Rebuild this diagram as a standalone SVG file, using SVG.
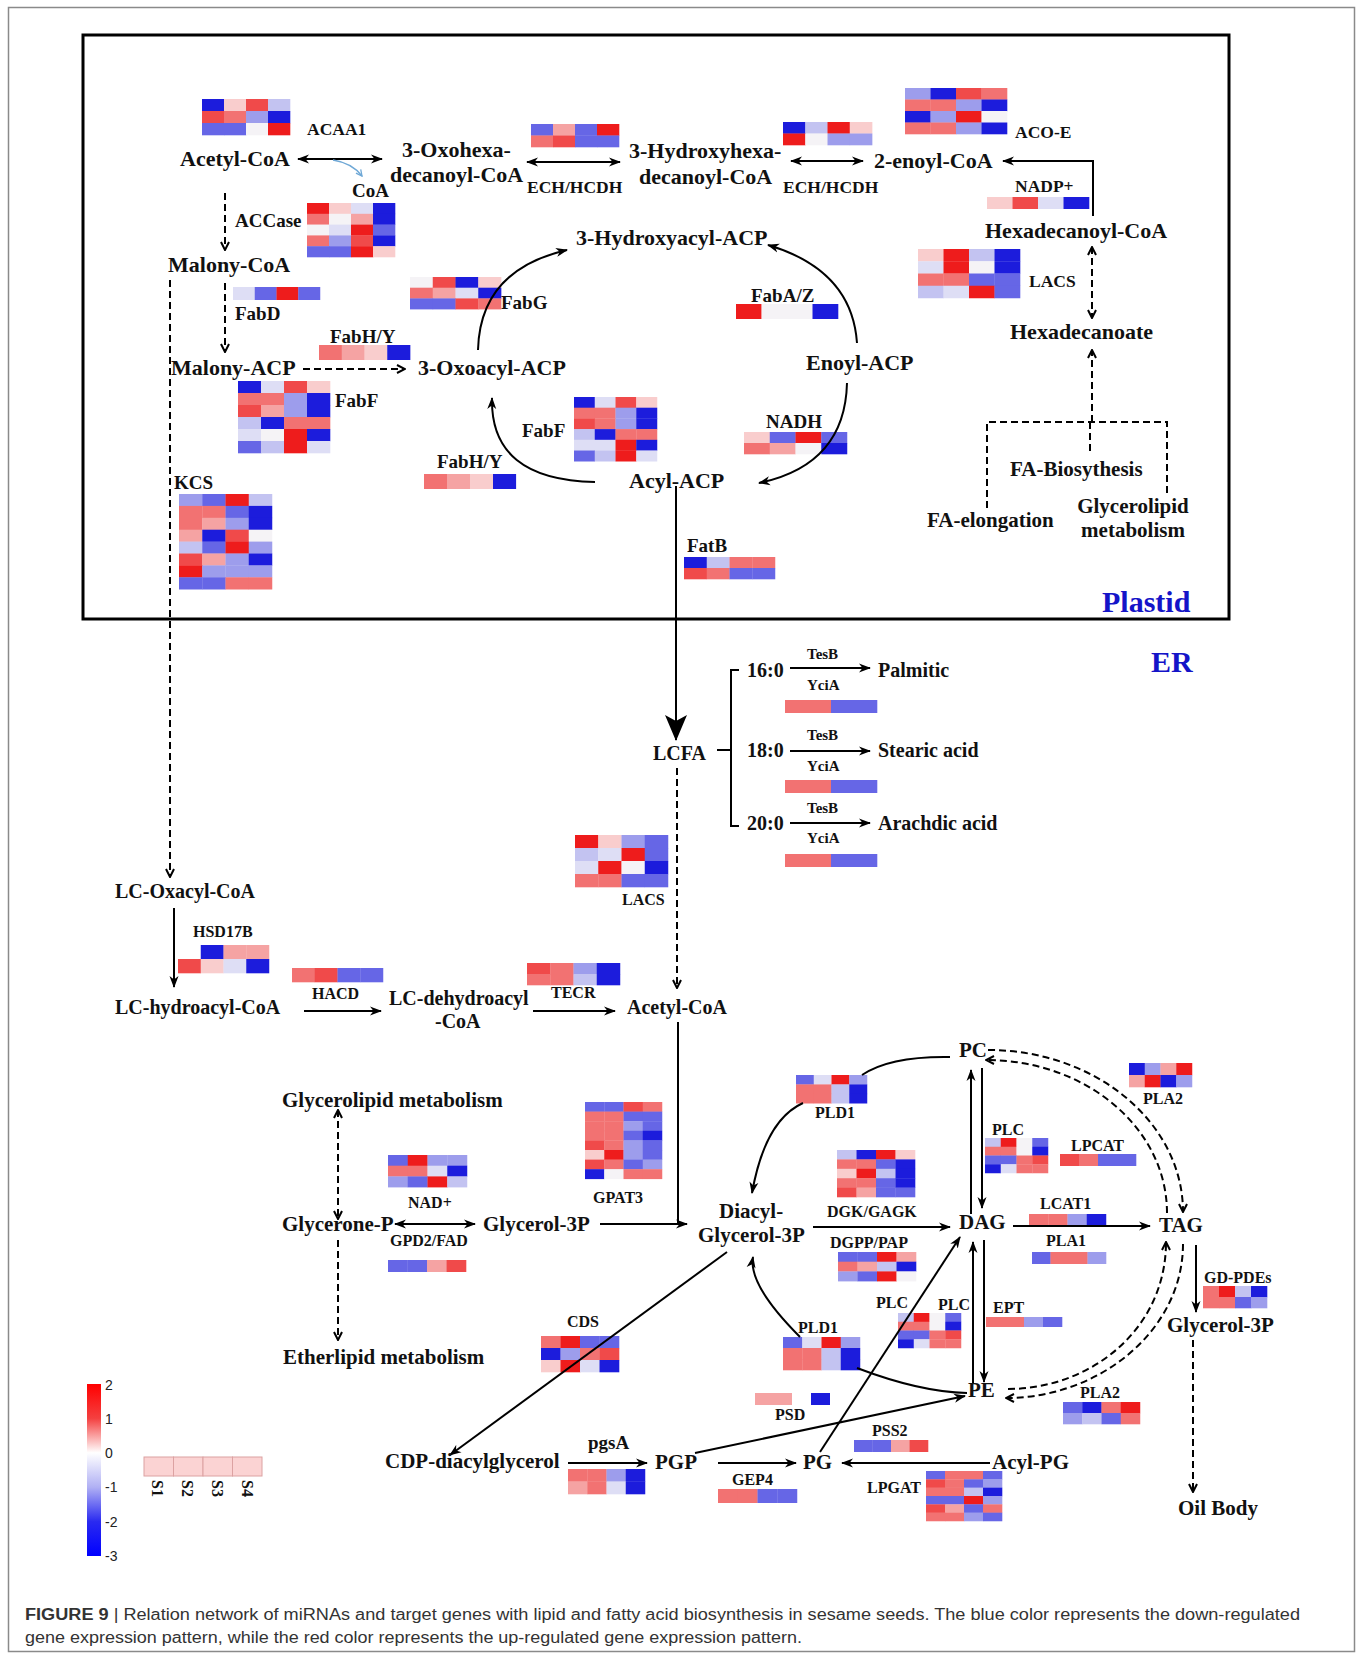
<svg xmlns="http://www.w3.org/2000/svg" width="1362" height="1659" viewBox="0 0 1362 1659">
<style>
text{font-family:"Liberation Serif","Times New Roman",serif;font-weight:bold;fill:#111}
.t22{font-size:22px}.t21{font-size:21px}.t20{font-size:20px}.t19{font-size:19px}.t17{font-size:17.5px}.t16{font-size:16px}.t15{font-size:15px}
.blue{fill:#1414c8;font-size:30px}
.ln{fill:none;stroke:#000;stroke-width:2}
.dl{fill:none;stroke:#000;stroke-width:2;stroke-dasharray:7 4}
.h1{fill:#ee1c1c}.h2{fill:#f04a4a}.h3{fill:#f27272}.h4{fill:#f5a3a3}.h5{fill:#f9cdcd}.h6{fill:#f5f3f6}.h7{fill:#dedef5}.h8{fill:#c3c3f1}.h9{fill:#9d9dec}.h10{fill:#6666e6}.h11{fill:#1c1cdc}
#hm1 rect{width:22.3px;height:12.3px}#hm2 rect{width:22.3px;height:11.1px}#hm3 rect{width:22px;height:13px}#hm4 rect,#hm15 rect{width:23.1px;height:15px}
#hm5 rect{width:23.1px;height:11px}#hm6 rect{width:23.3px;height:12.3px}#hm7 rect{width:22.3px;height:11.8px}#hm8 rect{width:22.6px;height:11.8px}
#hm9 rect{width:25.8px;height:11.8px}#hm10 rect{width:25.8px;height:12px}#hm11 rect{width:25.8px;height:12.5px}#hm12 rect{width:25.8px;height:15px}
#hm13 rect{width:21px;height:11px}#hm14 rect{width:26px;height:11.3px}#hm16 rect{width:23.5px;height:12.2px}#hm17 rect{width:23px;height:11.3px}
#hm18 rect,#hm19 rect,#hm20 rect{width:23.3px;height:13px}#hm21 rect{width:23.5px;height:13.3px}#hm22 rect,#hm23 rect{width:23px;height:14.3px}
#hm24 rect{width:23.5px;height:11.3px}#hm25 rect{width:20px;height:11px}#hm26 rect{width:19.8px;height:12px}#hm27 rect{width:19.5px;height:9.9px}
#hm28 rect{width:18px;height:9.7px}#hm29 rect{width:19.8px;height:9.7px}#hm30 rect{width:19.8px;height:10px}#hm31 rect,#hm38 rect{width:16px;height:9px}
#hm32 rect{width:19.3px;height:12px}#hm33 rect{width:16px;height:12.3px}#hm34 rect{width:19.5px;height:12px}#hm35 rect{width:18.8px;height:12px}
#hm36 rect{width:16.3px;height:11.3px}#hm37 rect{width:19.3px;height:10px}#hm39 rect{width:19.5px;height:11.3px}#hm40 rect{width:19.8px;height:12.3px}
#hm42 rect{width:18.8px;height:12px}#hm43 rect{width:19.5px;height:11.3px}#hm44 rect{width:19.5px;height:12.8px}#hm45 rect{width:20px;height:14px}#hm46 rect{width:19.3px;height:8.6px}
</style>
<defs>
<marker id="a" viewBox="0 0 12 10" markerWidth="12" markerHeight="10" refX="11" refY="5" orient="auto-start-reverse" markerUnits="userSpaceOnUse"><path d="M0,0.5 L12,5 L0,9.5 L3.5,5 z" fill="#000"/></marker>
<marker id="v" viewBox="0 0 10 10" markerWidth="10" markerHeight="10" refX="9" refY="5" orient="auto-start-reverse" markerUnits="userSpaceOnUse"><path d="M1,1 L9,5 L1,9" fill="none" stroke="#000" stroke-width="2"/></marker>
<marker id="big" viewBox="0 0 26 22" markerWidth="26" markerHeight="22" refX="25" refY="11" orient="auto" markerUnits="userSpaceOnUse"><path d="M0,0 L26,11 L0,22 L6,11 z" fill="#000"/></marker>
<marker id="ab" viewBox="0 0 8 8" markerWidth="8" markerHeight="8" refX="7" refY="4" orient="auto" markerUnits="userSpaceOnUse"><path d="M1,1 L7,4 L1,7" fill="none" stroke="#6fa8d6" stroke-width="1.3"/></marker>
<linearGradient id="cbar" x1="0" y1="0" x2="0" y2="1">
<stop offset="0" stop-color="#ff0000"/><stop offset="0.2" stop-color="#f44040"/><stop offset="0.4" stop-color="#ffffff"/><stop offset="0.6" stop-color="#b0b0f4"/><stop offset="0.8" stop-color="#2a2af0"/><stop offset="1" stop-color="#0000ff"/>
</linearGradient>
</defs>
<rect x="0" y="0" width="1362" height="1659" fill="#fff"/>
<rect x="8.5" y="7.5" width="1346" height="1644" fill="none" stroke="#8a8a8a" stroke-width="1.5"/>
<rect id="plastid" x="83" y="35" width="1146" height="584" fill="none" stroke="#000" stroke-width="3"/>

<g id="heatmaps">
<g id="hm1" transform="translate(202,99)"><rect x="0" y="0" class="h11"/><rect x="22" y="0" class="h5"/><rect x="44" y="0" class="h2"/><rect x="66" y="0" class="h8"/><rect x="0" y="12" class="h2"/><rect x="22" y="12" class="h3"/><rect x="44" y="12" class="h9"/><rect x="66" y="12" class="h11"/><rect x="0" y="24" class="h10"/><rect x="22" y="24" class="h10"/><rect x="44" y="24" class="h6"/><rect x="66" y="24" class="h1"/></g>
<g id="hm2" transform="translate(307,203)"><rect x="0" y="0" class="h1"/><rect x="22" y="0" class="h5"/><rect x="44" y="0" class="h7"/><rect x="66" y="0" class="h11"/><rect x="0" y="10.8" class="h3"/><rect x="22" y="10.8" class="h6"/><rect x="44" y="10.8" class="h4"/><rect x="66" y="10.8" class="h11"/><rect x="0" y="21.6" class="h6"/><rect x="22" y="21.6" class="h7"/><rect x="44" y="21.6" class="h1"/><rect x="66" y="21.6" class="h10"/><rect x="0" y="32.4" class="h3"/><rect x="22" y="32.4" class="h9"/><rect x="44" y="32.4" class="h2"/><rect x="66" y="32.4" class="h11"/><rect x="0" y="43.2" class="h10"/><rect x="22" y="43.2" class="h10"/><rect x="44" y="43.2" class="h1"/><rect x="66" y="43.2" class="h5"/></g>
<g id="hm3" transform="translate(233,287)"><rect x="0" y="0" class="h7"/><rect x="21.75" y="0" class="h10"/><rect x="43.5" y="0" class="h1"/><rect x="65.25" y="0" class="h10"/></g>
<g id="hm4" transform="translate(319,345)"><rect x="0" y="0" class="h3"/><rect x="22.75" y="0" class="h4"/><rect x="45.5" y="0" class="h5"/><rect x="68.25" y="0" class="h11"/></g>
<g id="hm5" transform="translate(410,277)"><rect x="0" y="0" class="h6"/><rect x="22.75" y="0" class="h2"/><rect x="45.5" y="0" class="h11"/><rect x="68.25" y="0" class="h5"/><rect x="0" y="10.7" class="h3"/><rect x="22.75" y="10.7" class="h4"/><rect x="45.5" y="10.7" class="h7"/><rect x="68.25" y="10.7" class="h11"/><rect x="0" y="21.4" class="h10"/><rect x="22.75" y="21.4" class="h10"/><rect x="45.5" y="21.4" class="h2"/><rect x="68.25" y="21.4" class="h3"/></g>
<g id="hm6" transform="translate(238,381)"><rect x="0" y="0" class="h11"/><rect x="23" y="0" class="h7"/><rect x="46" y="0" class="h2"/><rect x="69" y="0" class="h5"/><rect x="0" y="12" class="h3"/><rect x="23" y="12" class="h3"/><rect x="46" y="12" class="h9"/><rect x="69" y="12" class="h11"/><rect x="0" y="24" class="h2"/><rect x="23" y="24" class="h4"/><rect x="46" y="24" class="h9"/><rect x="69" y="24" class="h11"/><rect x="0" y="36" class="h8"/><rect x="23" y="36" class="h11"/><rect x="46" y="36" class="h3"/><rect x="69" y="36" class="h3"/><rect x="0" y="48" class="h7"/><rect x="23" y="48" class="h6"/><rect x="46" y="48" class="h1"/><rect x="69" y="48" class="h11"/><rect x="0" y="60" class="h10"/><rect x="23" y="60" class="h8"/><rect x="46" y="60" class="h1"/><rect x="69" y="60" class="h7"/></g>
<g id="hm7" transform="translate(531,124)"><rect x="0" y="0" class="h10"/><rect x="22" y="0" class="h4"/><rect x="44" y="0" class="h10"/><rect x="66" y="0" class="h1"/><rect x="0" y="11.5" class="h3"/><rect x="22" y="11.5" class="h2"/><rect x="44" y="11.5" class="h10"/><rect x="66" y="11.5" class="h10"/></g>
<g id="hm8" transform="translate(783,122)"><rect x="0" y="0" class="h11"/><rect x="22.25" y="0" class="h8"/><rect x="44.5" y="0" class="h1"/><rect x="66.75" y="0" class="h5"/><rect x="0" y="11.5" class="h1"/><rect x="22.25" y="11.5" class="h6"/><rect x="44.5" y="11.5" class="h9"/><rect x="66.75" y="11.5" class="h9"/></g>
<g id="hm9" transform="translate(905,88)"><rect x="0" y="0" class="h9"/><rect x="25.5" y="0" class="h11"/><rect x="51" y="0" class="h2"/><rect x="76.5" y="0" class="h3"/><rect x="0" y="11.5" class="h3"/><rect x="25.5" y="11.5" class="h3"/><rect x="51" y="11.5" class="h9"/><rect x="76.5" y="11.5" class="h11"/><rect x="0" y="23" class="h11"/><rect x="25.5" y="23" class="h9"/><rect x="51" y="23" class="h1"/><rect x="76.5" y="23" class="h6"/><rect x="0" y="34.5" class="h3"/><rect x="25.5" y="34.5" class="h3"/><rect x="51" y="34.5" class="h9"/><rect x="76.5" y="34.5" class="h11"/></g>
<g id="hm10" transform="translate(987,197)"><rect x="0" y="0" class="h5"/><rect x="25.5" y="0" class="h2"/><rect x="51" y="0" class="h7"/><rect x="76.5" y="0" class="h11"/></g>
<g id="hm11" transform="translate(918,249)"><rect x="0" y="0" class="h5"/><rect x="25.5" y="0" class="h1"/><rect x="51" y="0" class="h8"/><rect x="76.5" y="0" class="h11"/><rect x="0" y="12.25" class="h7"/><rect x="25.5" y="12.25" class="h1"/><rect x="51" y="12.25" class="h6"/><rect x="76.5" y="12.25" class="h11"/><rect x="0" y="24.5" class="h3"/><rect x="25.5" y="24.5" class="h3"/><rect x="51" y="24.5" class="h10"/><rect x="76.5" y="24.5" class="h10"/><rect x="0" y="36.75" class="h8"/><rect x="25.5" y="36.75" class="h7"/><rect x="51" y="36.75" class="h1"/><rect x="76.5" y="36.75" class="h10"/></g>
<g id="hm12" transform="translate(736,304)"><rect x="0" y="0" class="h1"/><rect x="25.5" y="0" class="h6"/><rect x="51" y="0" class="h6"/><rect x="76.5" y="0" class="h11"/></g>
<g id="hm13" transform="translate(574,397)"><rect x="0" y="0" class="h11"/><rect x="20.75" y="0" class="h7"/><rect x="41.5" y="0" class="h2"/><rect x="62.25" y="0" class="h5"/><rect x="0" y="10.7" class="h3"/><rect x="20.75" y="10.7" class="h3"/><rect x="41.5" y="10.7" class="h9"/><rect x="62.25" y="10.7" class="h11"/><rect x="0" y="21.4" class="h2"/><rect x="20.75" y="21.4" class="h3"/><rect x="41.5" y="21.4" class="h9"/><rect x="62.25" y="21.4" class="h11"/><rect x="0" y="32.1" class="h8"/><rect x="20.75" y="32.1" class="h11"/><rect x="41.5" y="32.1" class="h3"/><rect x="62.25" y="32.1" class="h3"/><rect x="0" y="42.8" class="h7"/><rect x="20.75" y="42.8" class="h7"/><rect x="41.5" y="42.8" class="h1"/><rect x="62.25" y="42.8" class="h11"/><rect x="0" y="53.5" class="h10"/><rect x="20.75" y="53.5" class="h8"/><rect x="41.5" y="53.5" class="h1"/><rect x="62.25" y="53.5" class="h7"/></g>
<g id="hm14" transform="translate(744,432)"><rect x="0" y="0" class="h5"/><rect x="25.75" y="0" class="h10"/><rect x="51.5" y="0" class="h1"/><rect x="77.25" y="0" class="h10"/><rect x="0" y="11" class="h3"/><rect x="25.75" y="11" class="h4"/><rect x="51.5" y="11" class="h6"/><rect x="77.25" y="11" class="h11"/></g>
<g id="hm15" transform="translate(424,474)"><rect x="0" y="0" class="h3"/><rect x="23" y="0" class="h4"/><rect x="46" y="0" class="h5"/><rect x="69" y="0" class="h11"/></g>
<g id="hm16" transform="translate(179,494)"><rect x="0" y="0" class="h9"/><rect x="23.25" y="0" class="h10"/><rect x="46.5" y="0" class="h1"/><rect x="69.75" y="0" class="h8"/><rect x="0" y="11.9" class="h3"/><rect x="23.25" y="11.9" class="h3"/><rect x="46.5" y="11.9" class="h10"/><rect x="69.75" y="11.9" class="h11"/><rect x="0" y="23.8" class="h3"/><rect x="23.25" y="23.8" class="h4"/><rect x="46.5" y="23.8" class="h9"/><rect x="69.75" y="23.8" class="h11"/><rect x="0" y="35.7" class="h4"/><rect x="23.25" y="35.7" class="h11"/><rect x="46.5" y="35.7" class="h2"/><rect x="69.75" y="35.7" class="h6"/><rect x="0" y="47.6" class="h8"/><rect x="23.25" y="47.6" class="h10"/><rect x="46.5" y="47.6" class="h1"/><rect x="69.75" y="47.6" class="h9"/><rect x="0" y="59.5" class="h2"/><rect x="23.25" y="59.5" class="h4"/><rect x="46.5" y="59.5" class="h9"/><rect x="69.75" y="59.5" class="h11"/><rect x="0" y="71.4" class="h1"/><rect x="23.25" y="71.4" class="h9"/><rect x="46.5" y="71.4" class="h9"/><rect x="69.75" y="71.4" class="h9"/><rect x="0" y="83.3" class="h10"/><rect x="23.25" y="83.3" class="h10"/><rect x="46.5" y="83.3" class="h3"/><rect x="69.75" y="83.3" class="h3"/></g>
<g id="hm17" transform="translate(684,557)"><rect x="0" y="0" class="h11"/><rect x="22.75" y="0" class="h8"/><rect x="45.5" y="0" class="h3"/><rect x="68.25" y="0" class="h3"/><rect x="0" y="11" class="h2"/><rect x="22.75" y="11" class="h3"/><rect x="45.5" y="11" class="h10"/><rect x="68.25" y="11" class="h10"/></g>
<g id="hm18" transform="translate(785,700)"><rect x="0" y="0" class="h3"/><rect x="23" y="0" class="h3"/><rect x="46" y="0" class="h10"/><rect x="69" y="0" class="h10"/></g>
<g id="hm19" transform="translate(785,780)"><rect x="0" y="0" class="h3"/><rect x="23" y="0" class="h3"/><rect x="46" y="0" class="h10"/><rect x="69" y="0" class="h10"/></g>
<g id="hm20" transform="translate(785,854)"><rect x="0" y="0" class="h3"/><rect x="23" y="0" class="h3"/><rect x="46" y="0" class="h10"/><rect x="69" y="0" class="h10"/></g>
<g id="hm21" transform="translate(575,835)"><rect x="0" y="0" class="h1"/><rect x="23.25" y="0" class="h5"/><rect x="46.5" y="0" class="h9"/><rect x="69.75" y="0" class="h10"/><rect x="0" y="13" class="h8"/><rect x="23.25" y="13" class="h7"/><rect x="46.5" y="13" class="h1"/><rect x="69.75" y="13" class="h10"/><rect x="0" y="26" class="h7"/><rect x="23.25" y="26" class="h1"/><rect x="46.5" y="26" class="h6"/><rect x="69.75" y="26" class="h11"/><rect x="0" y="39" class="h3"/><rect x="23.25" y="39" class="h3"/><rect x="46.5" y="39" class="h10"/><rect x="69.75" y="39" class="h10"/></g>
<g id="hm22" transform="translate(178,945)"><rect x="22.75" y="0" class="h11"/><rect x="45.5" y="0" class="h4"/><rect x="68.25" y="0" class="h4"/><rect x="0" y="14" class="h2"/><rect x="22.75" y="14" class="h5"/><rect x="45.5" y="14" class="h7"/><rect x="68.25" y="14" class="h11"/></g>
<g id="hm23" transform="translate(292,968)"><rect x="0" y="0" class="h3"/><rect x="22.75" y="0" class="h2"/><rect x="45.5" y="0" class="h10"/><rect x="68.25" y="0" class="h10"/></g>
<g id="hm24" transform="translate(527,963)"><rect x="0" y="0" class="h2"/><rect x="23.25" y="0" class="h3"/><rect x="46.5" y="0" class="h9"/><rect x="69.75" y="0" class="h11"/><rect x="0" y="11" class="h3"/><rect x="23.25" y="11" class="h3"/><rect x="46.5" y="11" class="h8"/><rect x="69.75" y="11" class="h11"/></g>
<g id="hm25" transform="translate(388,1155)"><rect x="0" y="0" class="h10"/><rect x="19.75" y="0" class="h1"/><rect x="39.5" y="0" class="h9"/><rect x="59.25" y="0" class="h9"/><rect x="0" y="10.7" class="h3"/><rect x="19.75" y="10.7" class="h3"/><rect x="39.5" y="10.7" class="h7"/><rect x="59.25" y="10.7" class="h11"/><rect x="0" y="21.4" class="h9"/><rect x="19.75" y="21.4" class="h10"/><rect x="39.5" y="21.4" class="h1"/><rect x="59.25" y="21.4" class="h8"/></g>
<g id="hm26" transform="translate(388,1260)"><rect x="0" y="0" class="h10"/><rect x="19.5" y="0" class="h10"/><rect x="39" y="0" class="h4"/><rect x="58.5" y="0" class="h2"/></g>
<g id="hm27" transform="translate(585,1102)"><rect x="0" y="0" class="h10"/><rect x="19.25" y="0" class="h10"/><rect x="38.5" y="0" class="h2"/><rect x="57.75" y="0" class="h3"/><rect x="0" y="9.6" class="h3"/><rect x="19.25" y="9.6" class="h3"/><rect x="38.5" y="9.6" class="h10"/><rect x="57.75" y="9.6" class="h10"/><rect x="0" y="19.2" class="h3"/><rect x="19.25" y="19.2" class="h3"/><rect x="38.5" y="19.2" class="h9"/><rect x="57.75" y="19.2" class="h10"/><rect x="0" y="28.8" class="h3"/><rect x="19.25" y="28.8" class="h3"/><rect x="38.5" y="28.8" class="h10"/><rect x="57.75" y="28.8" class="h11"/><rect x="0" y="38.4" class="h2"/><rect x="19.25" y="38.4" class="h3"/><rect x="38.5" y="38.4" class="h9"/><rect x="57.75" y="38.4" class="h10"/><rect x="0" y="48" class="h5"/><rect x="19.25" y="48" class="h1"/><rect x="38.5" y="48" class="h9"/><rect x="57.75" y="48" class="h10"/><rect x="0" y="57.6" class="h2"/><rect x="19.25" y="57.6" class="h3"/><rect x="38.5" y="57.6" class="h10"/><rect x="57.75" y="57.6" class="h9"/><rect x="0" y="67.2" class="h11"/><rect x="19.25" y="67.2" class="h6"/><rect x="38.5" y="67.2" class="h3"/><rect x="57.75" y="67.2" class="h3"/></g>
<g id="hm28" transform="translate(796,1075)"><rect x="0" y="0" class="h10"/><rect x="17.75" y="0" class="h7"/><rect x="35.5" y="0" class="h1"/><rect x="53.25" y="0" class="h9"/><rect x="0" y="9.4" class="h3"/><rect x="17.75" y="9.4" class="h3"/><rect x="35.5" y="9.4" class="h8"/><rect x="53.25" y="9.4" class="h11"/><rect x="0" y="18.8" class="h3"/><rect x="17.75" y="18.8" class="h3"/><rect x="35.5" y="18.8" class="h8"/><rect x="53.25" y="18.8" class="h11"/></g>
<g id="hm29" transform="translate(837,1150)"><rect x="0" y="0" class="h8"/><rect x="19.5" y="0" class="h11"/><rect x="39" y="0" class="h1"/><rect x="58.5" y="0" class="h5"/><rect x="0" y="9.4" class="h3"/><rect x="19.5" y="9.4" class="h3"/><rect x="39" y="9.4" class="h10"/><rect x="58.5" y="9.4" class="h11"/><rect x="0" y="18.8" class="h5"/><rect x="19.5" y="18.8" class="h1"/><rect x="39" y="18.8" class="h8"/><rect x="58.5" y="18.8" class="h11"/><rect x="0" y="28.2" class="h3"/><rect x="19.5" y="28.2" class="h3"/><rect x="39" y="28.2" class="h10"/><rect x="58.5" y="28.2" class="h11"/><rect x="0" y="37.6" class="h2"/><rect x="19.5" y="37.6" class="h4"/><rect x="39" y="37.6" class="h10"/><rect x="58.5" y="37.6" class="h10"/></g>
<g id="hm30" transform="translate(838,1252)"><rect x="0" y="0" class="h10"/><rect x="19.5" y="0" class="h10"/><rect x="39" y="0" class="h1"/><rect x="58.5" y="0" class="h4"/><rect x="0" y="9.7" class="h3"/><rect x="19.5" y="9.7" class="h4"/><rect x="39" y="9.7" class="h8"/><rect x="58.5" y="9.7" class="h11"/><rect x="0" y="19.4" class="h9"/><rect x="19.5" y="19.4" class="h10"/><rect x="39" y="19.4" class="h1"/><rect x="58.5" y="19.4" class="h6"/></g>
<g id="hm31" transform="translate(985,1138)"><rect x="0" y="0" class="h8"/><rect x="15.75" y="0" class="h1"/><rect x="31.5" y="0" class="h6"/><rect x="47.25" y="0" class="h10"/><rect x="0" y="8.75" class="h3"/><rect x="15.75" y="8.75" class="h3"/><rect x="31.5" y="8.75" class="h6"/><rect x="47.25" y="8.75" class="h11"/><rect x="0" y="17.5" class="h10"/><rect x="15.75" y="17.5" class="h10"/><rect x="31.5" y="17.5" class="h3"/><rect x="47.25" y="17.5" class="h2"/><rect x="0" y="26.25" class="h11"/><rect x="15.75" y="26.25" class="h7"/><rect x="31.5" y="26.25" class="h3"/><rect x="47.25" y="26.25" class="h3"/></g>
<g id="hm32" transform="translate(1060,1154)"><rect x="0" y="0" class="h2"/><rect x="19" y="0" class="h3"/><rect x="38" y="0" class="h10"/><rect x="57" y="0" class="h10"/></g>
<g id="hm33" transform="translate(1129,1063)"><rect x="0" y="0" class="h11"/><rect x="15.75" y="0" class="h9"/><rect x="31.5" y="0" class="h4"/><rect x="47.25" y="0" class="h1"/><rect x="0" y="12" class="h4"/><rect x="15.75" y="12" class="h1"/><rect x="31.5" y="12" class="h11"/><rect x="47.25" y="12" class="h9"/></g>
<g id="hm34" transform="translate(1029,1214)"><rect x="0" y="0" class="h3"/><rect x="19.25" y="0" class="h3"/><rect x="38.5" y="0" class="h9"/><rect x="57.75" y="0" class="h11"/></g>
<g id="hm35" transform="translate(1032,1252)"><rect x="0" y="0" class="h10"/><rect x="18.5" y="0" class="h3"/><rect x="37" y="0" class="h3"/><rect x="55.5" y="0" class="h9"/></g>
<g id="hm36" transform="translate(1203,1286)"><rect x="0" y="0" class="h3"/><rect x="16" y="0" class="h1"/><rect x="32" y="0" class="h8"/><rect x="48" y="0" class="h11"/><rect x="0" y="11" class="h3"/><rect x="16" y="11" class="h3"/><rect x="32" y="11" class="h10"/><rect x="48" y="11" class="h9"/></g>
<g id="hm37" transform="translate(986,1317)"><rect x="0" y="0" class="h3"/><rect x="19" y="0" class="h3"/><rect x="38" y="0" class="h9"/><rect x="57" y="0" class="h10"/></g>
<g id="hm38" transform="translate(898,1313)"><rect x="0" y="0" class="h8"/><rect x="15.75" y="0" class="h1"/><rect x="31.5" y="0" class="h6"/><rect x="47.25" y="0" class="h10"/><rect x="0" y="8.75" class="h3"/><rect x="15.75" y="8.75" class="h3"/><rect x="31.5" y="8.75" class="h6"/><rect x="47.25" y="8.75" class="h11"/><rect x="0" y="17.5" class="h10"/><rect x="15.75" y="17.5" class="h10"/><rect x="31.5" y="17.5" class="h3"/><rect x="47.25" y="17.5" class="h2"/><rect x="0" y="26.25" class="h11"/><rect x="15.75" y="26.25" class="h7"/><rect x="31.5" y="26.25" class="h3"/><rect x="47.25" y="26.25" class="h3"/></g>
<g id="hm39" transform="translate(783,1337)"><rect x="0" y="0" class="h10"/><rect x="19.25" y="0" class="h7"/><rect x="38.5" y="0" class="h1"/><rect x="57.75" y="0" class="h9"/><rect x="0" y="11" class="h3"/><rect x="19.25" y="11" class="h3"/><rect x="38.5" y="11" class="h8"/><rect x="57.75" y="11" class="h11"/><rect x="0" y="22" class="h3"/><rect x="19.25" y="22" class="h3"/><rect x="38.5" y="22" class="h8"/><rect x="57.75" y="22" class="h11"/></g>
<g id="hm40" transform="translate(541,1336)"><rect x="0" y="0" class="h3"/><rect x="19.5" y="0" class="h1"/><rect x="39" y="0" class="h10"/><rect x="58.5" y="0" class="h10"/><rect x="0" y="12" class="h11"/><rect x="19.5" y="12" class="h9"/><rect x="39" y="12" class="h3"/><rect x="58.5" y="12" class="h2"/><rect x="0" y="24" class="h5"/><rect x="19.5" y="24" class="h1"/><rect x="39" y="24" class="h7"/><rect x="58.5" y="24" class="h11"/></g>
<g id="hm41"><rect x="755" y="1393" width="37" height="12" class="h4"/><rect x="811" y="1393" width="19" height="12" class="h11"/></g>
<g id="hm42" transform="translate(854,1440)"><rect x="0" y="0" class="h10"/><rect x="18.5" y="0" class="h10"/><rect x="37" y="0" class="h4"/><rect x="55.5" y="0" class="h2"/></g>
<g id="hm43" transform="translate(1063,1402)"><rect x="0" y="0" class="h10"/><rect x="19.25" y="0" class="h11"/><rect x="38.5" y="0" class="h3"/><rect x="57.75" y="0" class="h1"/><rect x="0" y="11" class="h9"/><rect x="19.25" y="11" class="h8"/><rect x="38.5" y="11" class="h10"/><rect x="57.75" y="11" class="h3"/></g>
<g id="hm44" transform="translate(568,1469)"><rect x="0" y="0" class="h3"/><rect x="19.25" y="0" class="h3"/><rect x="38.5" y="0" class="h9"/><rect x="57.75" y="0" class="h11"/><rect x="0" y="12.5" class="h4"/><rect x="19.25" y="12.5" class="h3"/><rect x="38.5" y="12.5" class="h7"/><rect x="57.75" y="12.5" class="h11"/></g>
<g id="hm45" transform="translate(718,1489)"><rect x="0" y="0" class="h3"/><rect x="19.75" y="0" class="h3"/><rect x="39.5" y="0" class="h10"/><rect x="59.25" y="0" class="h10"/></g>
<g id="hm46" transform="translate(926,1471)"><rect x="0" y="0" class="h10"/><rect x="19" y="0" class="h3"/><rect x="38" y="0" class="h3"/><rect x="57" y="0" class="h10"/><rect x="0" y="8.33" class="h2"/><rect x="19" y="8.33" class="h3"/><rect x="38" y="8.33" class="h10"/><rect x="57" y="8.33" class="h9"/><rect x="0" y="16.67" class="h3"/><rect x="19" y="16.67" class="h3"/><rect x="38" y="16.67" class="h8"/><rect x="57" y="16.67" class="h11"/><rect x="0" y="25" class="h10"/><rect x="19" y="25" class="h10"/><rect x="38" y="25" class="h1"/><rect x="57" y="25" class="h9"/><rect x="0" y="33.33" class="h2"/><rect x="19" y="33.33" class="h4"/><rect x="38" y="33.33" class="h10"/><rect x="57" y="33.33" class="h3"/><rect x="0" y="41.67" class="h3"/><rect x="19" y="41.67" class="h3"/><rect x="38" y="41.67" class="h9"/><rect x="57" y="41.67" class="h10"/></g>
</g>

<g id="connectors">
<path class="ln" d="M298,159 H382" marker-start="url(#a)" marker-end="url(#a)"/>
<path d="M333,160 Q352,163 362,176" fill="none" stroke="#6fa8d6" stroke-width="1.3" marker-end="url(#ab)"/>
<path class="ln" d="M527,162 H620" marker-start="url(#a)" marker-end="url(#a)"/>
<path class="ln" d="M791,161 H863" marker-start="url(#a)" marker-end="url(#a)"/>
<path class="ln" d="M1093,216 V161 H1003" marker-end="url(#a)"/>
<path class="dl" d="M225,193 V250" marker-end="url(#v)"/>
<path class="dl" d="M225,283 V352" marker-end="url(#v)"/>
<path class="dl" d="M303,369 H405" marker-end="url(#v)"/>
<path class="dl" d="M170,280 V877" marker-end="url(#v)"/>
<path class="ln" d="M478,350 Q480,270 567,250" marker-end="url(#a)"/>
<path class="ln" d="M857,343 Q852,270 768,245" marker-end="url(#a)"/>
<path class="ln" d="M847,383 Q845,465 759,483" marker-end="url(#a)"/>
<path class="ln" d="M595,482 Q490,480 492,398" marker-end="url(#a)"/>
<path class="ln" d="M676,486 V740" stroke-width="2.5" marker-end="url(#big)"/>
<path class="dl" d="M1092,247 V318" marker-start="url(#v)" marker-end="url(#v)"/>
<path class="dl" d="M1092,422 V350" marker-end="url(#v)"/>
<path class="dl" d="M987,508 V422 H1167 V497 M1090,422 V455"/>
<path class="ln" d="M717,750 H731 M739,670 H731 V826 H739" stroke-width="2.5"/>
<path class="ln" d="M790,668 H870" marker-end="url(#a)"/>
<path class="ln" d="M790,751 H870" marker-end="url(#a)"/>
<path class="ln" d="M790,823 H870" marker-end="url(#a)"/>
<path class="dl" d="M677,768 V988" marker-end="url(#v)"/>
<path class="ln" d="M174,908 V987" marker-end="url(#a)"/>
<path class="ln" d="M304,1011 H381" marker-end="url(#a)"/>
<path class="ln" d="M533,1011 H615" marker-end="url(#a)"/>
<path class="ln" d="M678,1022 V1224"/>
<path class="ln" d="M600,1224 H687" marker-end="url(#a)"/>
<path class="ln" d="M395,1224 H475" marker-start="url(#a)" marker-end="url(#a)"/>
<path class="dl" d="M338,1110 V1219" marker-start="url(#v)" marker-end="url(#v)"/>
<path class="dl" d="M338,1240 V1340" marker-end="url(#v)"/>
<path class="ln" d="M727,1252 L450,1455" marker-end="url(#a)"/>
<path class="ln" d="M568,1463 H647" marker-end="url(#a)"/>
<path class="ln" d="M718,1463 H796" marker-end="url(#a)"/>
<path class="ln" d="M990,1463 H842" marker-end="url(#a)"/>
<path class="ln" d="M695,1453 L965,1396" marker-end="url(#a)"/>
<path class="ln" d="M820,1452 L960,1237" marker-end="url(#a)"/>
<path class="ln" d="M813,1227 H950" marker-end="url(#a)"/>
<path class="ln" d="M971,1214 V1070" marker-end="url(#a)"/>
<path class="ln" d="M982,1068 V1208" marker-end="url(#a)"/>
<path class="ln" d="M973,1383 V1242" marker-end="url(#a)"/>
<path class="ln" d="M984,1240 V1382" marker-end="url(#a)"/>
<path class="ln" d="M1013,1226 H1150" marker-end="url(#a)"/>
<path class="ln" d="M1196,1245 V1312" marker-end="url(#a)"/>
<path class="dl" d="M1193,1340 V1492" marker-end="url(#v)"/>
<path class="ln" d="M950,1057 Q890,1056 862,1075"/>
<path class="ln" d="M803,1103 Q765,1120 752,1193" marker-end="url(#a)"/>
<path class="ln" d="M967,1393 Q920,1392 857,1368"/>
<path class="ln" d="M800,1337 Q748,1285 753,1257" marker-end="url(#a)"/>
<path class="dl" d="M988,1050 C1096,1050 1183,1123 1183,1212" marker-end="url(#v)"/>
<path class="dl" d="M1167,1213 C1167,1128 1086,1060 986,1060" marker-end="url(#v)"/>
<path class="dl" d="M1183,1244 C1183,1330 1100,1398 1006,1398" marker-end="url(#v)"/>
<path class="dl" d="M1008,1389 C1090,1389 1166,1330 1166,1242" marker-end="url(#v)"/>
</g>

<g id="labels-plastid">
<text class="t17" x="307" y="135">ACAA1</text>
<text class="t22" x="180" y="166">Acetyl-CoA</text>
<text class="t19" x="352" y="197">CoA</text>
<text class="t22" x="402" y="157">3-Oxohexa-</text>
<text class="t22" x="390" y="182">decanoyl-CoA</text>
<text class="t17" x="527" y="193">ECH/HCDH</text>
<text class="t22" x="629" y="158">3-Hydroxyhexa-</text>
<text class="t22" x="639" y="184">decanoyl-CoA</text>
<text class="t17" x="783" y="193">ECH/HCDH</text>
<text class="t22" x="874" y="168">2-enoyl-CoA</text>
<text class="t17" x="1015" y="138">ACO-E</text>
<text class="t17" x="1015" y="192">NADP+</text>
<text class="t22" x="985" y="238">Hexadecanoyl-CoA</text>
<text class="t17" x="1029" y="287">LACS</text>
<text class="t22" x="1010" y="339">Hexadecanoate</text>
<text class="t21" x="1010" y="476">FA-Biosythesis</text>
<text class="t21" x="927" y="527">FA-elongation</text>
<text class="t21" x="1133" y="513" text-anchor="middle">Glycerolipid</text>
<text class="t21" x="1133" y="537" text-anchor="middle">metabolism</text>
<text class="blue" x="1102" y="612">Plastid</text>
<text class="t19" x="235" y="227">ACCase</text>
<text class="t22" x="168" y="272">Malony-CoA</text>
<text class="t19" x="235" y="320">FabD</text>
<text class="t19" x="330" y="343">FabH/Y</text>
<text class="t22" x="171" y="375">Malony-ACP</text>
<text class="t22" x="418" y="375">3-Oxoacyl-ACP</text>
<text class="t19" x="501" y="309">FabG</text>
<text class="t19" x="335" y="407">FabF</text>
<text class="t22" x="576" y="245">3-Hydroxyacyl-ACP</text>
<text class="t19" x="751" y="302">FabA/Z</text>
<text class="t22" x="806" y="370">Enoyl-ACP</text>
<text class="t19" x="766" y="428">NADH</text>
<text class="t19" x="522" y="437">FabF</text>
<text class="t19" x="437" y="468">FabH/Y</text>
<text class="t22" x="629" y="488">Acyl-ACP</text>
<text class="t19" x="174" y="489">KCS</text>
<text class="t19" x="687" y="552">FatB</text>
</g>

<g id="labels-er">
<text class="blue" x="1151" y="672">ER</text>
<text class="t20" x="653" y="760">LCFA</text>
<text class="t15" x="807" y="659">TesB</text>
<text class="t20" x="747" y="677">16:0</text>
<text class="t20" x="878" y="677">Palmitic</text>
<text class="t15" x="807" y="690">YciA</text>
<text class="t15" x="807" y="740">TesB</text>
<text class="t20" x="747" y="757">18:0</text>
<text class="t20" x="878" y="757">Stearic acid</text>
<text class="t15" x="807" y="771">YciA</text>
<text class="t15" x="807" y="813">TesB</text>
<text class="t20" x="747" y="830">20:0</text>
<text class="t20" x="878" y="830">Arachdic acid</text>
<text class="t15" x="807" y="843">YciA</text>
<text class="t16" x="622" y="905">LACS</text>
<text class="t20" x="115" y="898">LC-Oxacyl-CoA</text>
<text class="t16" x="193" y="937">HSD17B</text>
<text class="t20" x="115" y="1014">LC-hydroacyl-CoA</text>
<text class="t16" x="312" y="999">HACD</text>
<text class="t20" x="389" y="1005">LC-dehydroacyl</text>
<text class="t20" x="435" y="1028">-CoA</text>
<text class="t16" x="551" y="998">TECR</text>
<text class="t20" x="627" y="1014">Acetyl-CoA</text>
<text class="t21" x="282" y="1107">Glycerolipid metabolism</text>
<text class="t16" x="408" y="1208">NAD+</text>
<text class="t21" x="282" y="1231">Glycerone-P</text>
<text class="t21" x="483" y="1231">Glycerol-3P</text>
<text class="t16" x="390" y="1246">GPD2/FAD</text>
<text class="t21" x="283" y="1364">Etherlipid metabolism</text>
<text class="t16" x="593" y="1203">GPAT3</text>
<text class="t16" x="815" y="1118">PLD1</text>
<text class="t21" x="719" y="1218">Diacyl-</text>
<text class="t21" x="698" y="1242">Glycerol-3P</text>
<text class="t16" x="827" y="1217">DGK/GAGK</text>
<text class="t16" x="830" y="1248">DGPP/PAP</text>
<text class="t21" x="959" y="1057">PC</text>
<text class="t21" x="959" y="1229">DAG</text>
<text class="t16" x="992" y="1135">PLC</text>
<text class="t16" x="1071" y="1151">LPCAT</text>
<text class="t16" x="1143" y="1104">PLA2</text>
<text class="t16" x="1040" y="1209">LCAT1</text>
<text class="t21" x="1159" y="1232">TAG</text>
<text class="t16" x="1046" y="1246">PLA1</text>
<text class="t16" x="1204" y="1283">GD-PDEs</text>
<text class="t21" x="1167" y="1332">Glycerol-3P</text>
<text class="t16" x="993" y="1313">EPT</text>
<text class="t16" x="876" y="1308">PLC</text>
<text class="t16" x="938" y="1310">PLC</text>
<text class="t16" x="798" y="1333">PLD1</text>
<text class="t16" x="567" y="1327">CDS</text>
<text class="t21" x="968" y="1397">PE</text>
<text class="t16" x="1080" y="1398">PLA2</text>
<text class="t16" x="775" y="1420">PSD</text>
<text class="t16" x="872" y="1436">PSS2</text>
<text class="t19" x="588" y="1449">pgsA</text>
<text class="t21" x="385" y="1468">CDP-diacylglycerol</text>
<text class="t21" x="655" y="1469">PGP</text>
<text class="t16" x="732" y="1485">GEP4</text>
<text class="t21" x="803" y="1469">PG</text>
<text class="t21" x="992" y="1469">Acyl-PG</text>
<text class="t16" x="867" y="1493">LPGAT</text>
<text class="t21" x="1178" y="1515">Oil Body</text>
</g>

<g id="legend">
<rect x="87" y="1384" width="14" height="172" fill="url(#cbar)"/>
<g font-family="Liberation Sans, Arial, sans-serif" font-size="14" fill="#222">
<text x="105" y="1390" style="font-family:'Liberation Sans',sans-serif;font-weight:normal;fill:#222">2</text>
<text x="105" y="1424" style="font-family:'Liberation Sans',sans-serif;font-weight:normal;fill:#222">1</text>
<text x="105" y="1458" style="font-family:'Liberation Sans',sans-serif;font-weight:normal;fill:#222">0</text>
<text x="105" y="1492" style="font-family:'Liberation Sans',sans-serif;font-weight:normal;fill:#222">-1</text>
<text x="105" y="1527" style="font-family:'Liberation Sans',sans-serif;font-weight:normal;fill:#222">-2</text>
<text x="105" y="1561" style="font-family:'Liberation Sans',sans-serif;font-weight:normal;fill:#222">-3</text>
</g>
<g fill="#fbd3d3" stroke="#dca2a2" stroke-width="1">
<rect x="144" y="1457" width="29.5" height="19"/><rect x="173.5" y="1457" width="29.5" height="19"/><rect x="203" y="1457" width="29.5" height="19"/><rect x="232.5" y="1457" width="29.5" height="19"/>
</g>
<text class="t16" transform="translate(152,1480) rotate(90)">S1</text>
<text class="t16" transform="translate(182,1480) rotate(90)">S2</text>
<text class="t16" transform="translate(212,1480) rotate(90)">S3</text>
<text class="t16" transform="translate(242,1480) rotate(90)">S4</text>
</g>

<g id="caption">
<text x="25" y="1620" textLength="1275" lengthAdjust="spacingAndGlyphs" style="font-family:'Liberation Sans',Arial,sans-serif;font-weight:normal;font-size:16px;fill:#333"><tspan style="font-weight:bold">FIGURE 9</tspan> | Relation network of miRNAs and target genes with lipid and fatty acid biosynthesis in sesame seeds. The blue color represents the down-regulated</text>
<text x="25" y="1643" textLength="777" lengthAdjust="spacingAndGlyphs" style="font-family:'Liberation Sans',Arial,sans-serif;font-weight:normal;font-size:16px;fill:#333">gene expression pattern, while the red color represents the up-regulated gene expression pattern.</text>
</g>
</svg>
